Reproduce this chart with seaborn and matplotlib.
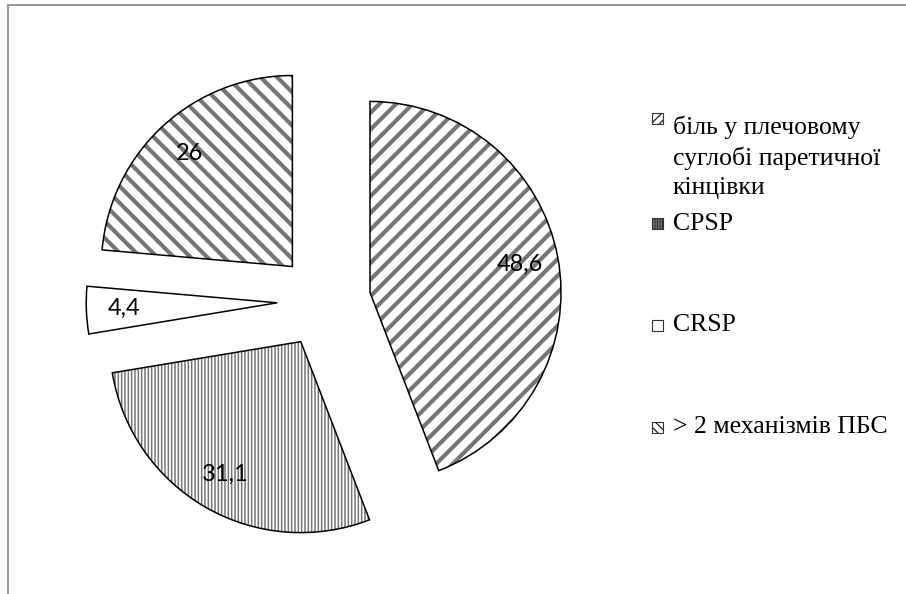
import matplotlib.pyplot as plt
import matplotlib.patches as mpatches
from matplotlib.lines import Line2D
import seaborn as sns

# ── Datos ─────────────────────────────────────────────────────
categorias = ['біль у плечовому\nсуглобі паретичної\nкінцівки', 'CPSP', 'CRSP', '> 2 механізмів ПБС']
valores = [48.6, 31.1, 4.4, 26]
etiquetas = ['48,6', '31,1', '4,4', '26']

# ── Estilo ────────────────────────────────────────────────────
sns.set_theme(style='white')
plt.rcParams.update({
    'figure.facecolor': 'white',
    'font.family': ['Liberation Serif', 'DejaVu Serif'],
})

ANCHO, ALTO = 906, 594
RADIO_PX = 191
CX, CY = 324, 301          # centro del pie en píxeles (desde arriba)

tramas = ['//', '|||||', '', '\\\\']
grosor_trama = [3.0, 1.1, 1.0, 3.0]
explosion = [0.245] * len(valores)

fig = plt.figure(figsize=(ANCHO / 100, ALTO / 100), dpi=100)
ax = fig.add_axes([0, 0, 1, 1])

# pie con tramas (relleno)
it = iter(etiquetas)
cunas, _, autotextos = ax.pie(
    valores, explode=explosion, startangle=90, counterclock=False, radius=1,
    autopct=lambda p: next(it), pctdistance=0.8,
    wedgeprops=dict(facecolor='white', edgecolor='#767676', linewidth=0),
    textprops=dict(family=['Lato', 'DejaVu Sans'], fontsize=17, color='black'),
)
for cuna, trama, lw in zip(cunas, tramas, grosor_trama):
    cuna.set_hatch(trama)
    if hasattr(cuna, 'set_hatch_linewidth'):
        cuna.set_hatch_linewidth(lw)

# contorno negro
ax.pie(valores, explode=explosion, startangle=90, counterclock=False, radius=1,
       wedgeprops=dict(fill=False, edgecolor='black', linewidth=1.1))

ax.set_aspect('auto')
ax.set_xlim(-CX / RADIO_PX, (ANCHO - CX) / RADIO_PX)
ax.set_ylim(-(ALTO - CY) / RADIO_PX, CY / RADIO_PX)
ax.axis('off')

# ── Leyenda manual ────────────────────────────────────────────
INTERLINEA = 30            # px entre líneas del texto de la leyenda
base_txt = [134, 230, 331, 433]     # línea base de la primera línea
top_marca = [113, 218, 320, 422]
for cat, trama, yb, ym in zip(categorias, tramas, base_txt, top_marca):
    marca = mpatches.Rectangle((652 / ANCHO, 1 - (ym + 11) / ALTO), 11 / ANCHO, 11 / ALTO,
                               transform=fig.transFigure, facecolor='white',
                               edgecolor='#333333', linewidth=0.8, hatch=trama * 2)
    fig.add_artist(marca)
    y_ultima = yb + cat.count('\n') * INTERLINEA
    fig.text(673 / ANCHO, 1 - y_ultima / ALTO, cat, fontsize=18.5, va='baseline', ha='left',
             linespacing=1.4, color='black')

# marco gris (solo arriba e izquierda)
fig.add_artist(Line2D([8 / ANCHO, 1], [1 - 5 / ALTO, 1 - 5 / ALTO],
                      transform=fig.transFigure, color='#9a9a9a', lw=1.5))
fig.add_artist(Line2D([8 / ANCHO, 8 / ANCHO], [0, 1 - 5 / ALTO],
                      transform=fig.transFigure, color='#9a9a9a', lw=1.5))

fig.savefig('out.png', dpi=100)
